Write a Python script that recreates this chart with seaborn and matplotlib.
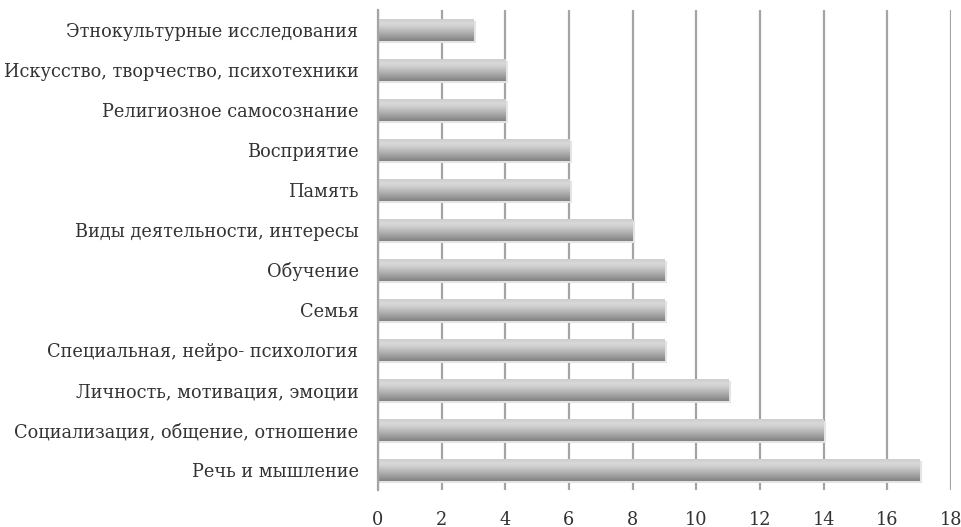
import numpy as np
import pandas as pd
import matplotlib
matplotlib.use("Agg")
import matplotlib.pyplot as plt
import seaborn as sns

categories = ["Этнокультурные исследования",
              "Искусство, творчество, психотехники",
              "Религиозное самосознание",
              "Восприятие",
              "Память",
              "Виды деятельности, интересы",
              "Обучение",
              "Семья",
              "Специальная, нейро- психология",
              "Личность, мотивация, эмоции",
              "Социализация, общение, отношение",
              "Речь и мышление"]
counts = [3, 4, 4, 6, 6, 8, 9, 9, 9, 11, 14, 17]
xticks = [0, 2, 4, 6, 8, 10, 12, 14, 16, 18]

df = pd.DataFrame({"topic": categories, "count": counts})

sns.set_style("white")
plt.rcParams['font.family'] = ['DejaVu Serif', 'Liberation Serif']

fig = plt.figure(figsize=(9.61, 5.27), dpi=100)
ax = fig.add_axes([0.3933, 0.0702, 0.5963, 0.911])

sns.barplot(data=df, x="count", y="topic", color="#a0a0a0", width=0.55,
            ax=ax, zorder=3)

# vertical gradient on each bar (light top, dark bottom)
grad = np.linspace(0, 1, 64).reshape(-1, 1)
cmap = matplotlib.colors.LinearSegmentedColormap.from_list(
    "g", ["#cdcdcd", "#d9d9d9", "#c0c0c0", "#a2a2a2", "#838383"])
for p in ax.patches:
    x0, y0 = p.get_x(), p.get_y()
    w, h = p.get_width(), p.get_height()
    # soft shadow
    ax.add_patch(plt.Rectangle((x0, y0 + 0.04), w + 0.08, h, color="#e4e4e4",
                               zorder=2, lw=0))
    im = ax.imshow(grad, cmap=cmap, aspect="auto", extent=(x0, x0 + w, y0 + h, y0),
                   zorder=4, interpolation="bicubic")
    im.set_clip_path(p)
    p.set_edgecolor("none")

ax.set_xlim(0, 18)
ax.set_ylim(11.5, -0.5)
ax.set_xticks(xticks)
ax.grid(axis="x", color="#a4a4a4", lw=1.6, zorder=0)
ax.set_axisbelow(True)
for s in ["top", "right", "bottom"]:
    ax.spines[s].set_visible(False)
ax.spines["left"].set_color("#a4a4a4")
ax.spines["left"].set_linewidth(1.6)
ax.spines["left"].set_zorder(5)
ax.set_xlabel("")
ax.set_ylabel("")
ax.tick_params(axis="both", length=0, labelsize=12.75, labelcolor="#333333")
ax.tick_params(axis="x", pad=15)
ax.tick_params(axis="y", pad=14)

fig.savefig("out.png", dpi=100)
